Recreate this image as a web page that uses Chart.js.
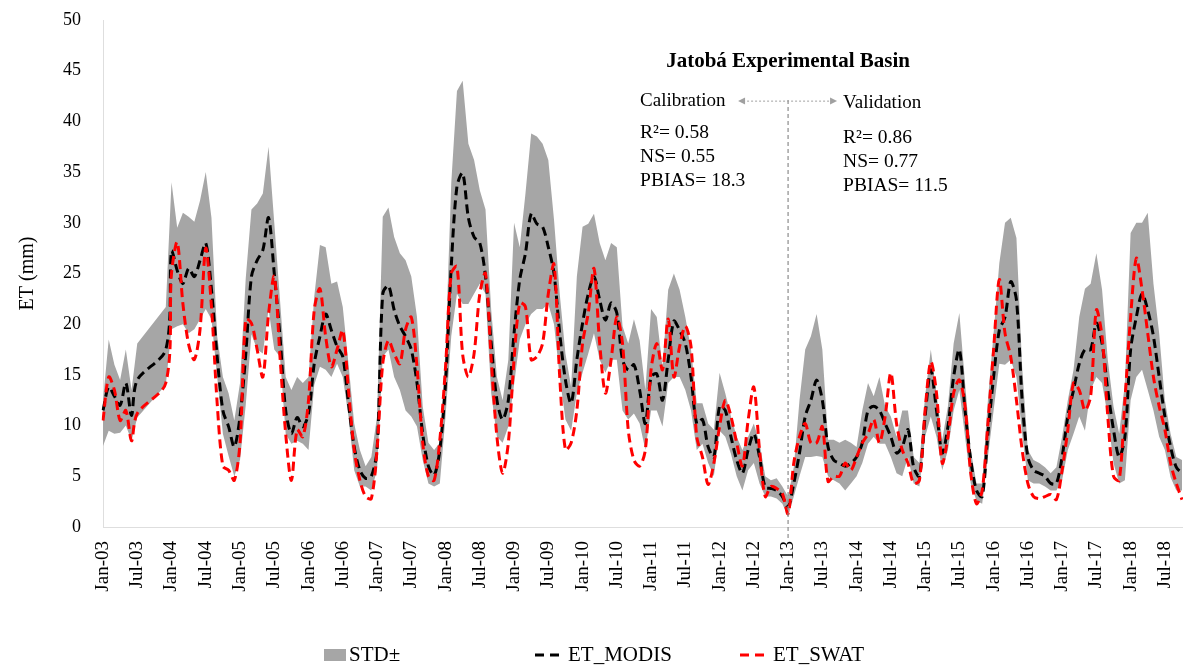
<!DOCTYPE html>
<html>
<head>
<meta charset="utf-8">
<script src="https://cdn.jsdelivr.net/npm/chart.js@4.4.1/dist/chart.umd.min.js"></script>
<style>
  html, body { margin: 0; padding: 0; background: #ffffff; }
  #wrap { width: 1183px; height: 666px; position: relative; }
</style>
</head>
<body>
<div id="wrap"><canvas id="chart"></canvas></div>
<script>
// ---------- data (monthly, Jan-03 .. Oct-18) ----------
const monthNames = ['Jan','Feb','Mar','Apr','May','Jun','Jul','Aug','Sep','Oct','Nov','Dec'];
const yearSuffixes = ['03','04','05','06','07','08','09','10','11','12','13','14','15','16','17','18'];

const tickLabels = ['Jan-03','Jul-03','Jan-04','Jul-04','Jan-05','Jul-05','Jan-06','Jul-06',
  'Jan-07','Jul-07','Jan-08','Jul-08','Jan-09','Jul-09','Jan-10','Jul-10','Jan-11','Jul-11',
  'Jan-12','Jul-12','Jan-13','Jul-13','Jan-14','Jul-14','Jan-15','Jul-15','Jan-16','Jul-16',
  'Jan-17','Jul-17','Jan-18','Jul-18'];

const etModis = [
  11.5, 13.8, 12.9, 12.0, 14.2, 11.0, 14.5, null, null, null, null, 17.5,
  27.2, 25.3, 24.0, 25.5, 24.7, 26.3, 28.0, 23.4, 16.8, 11.5, 9.9, 7.9,
  10.9, 17.0, 24.7, 26.3, 27.3, 30.5, 25.0, 18.8, 11.5, 9.2, 10.8, 9.9,
  11.2, 16.1, 18.8, 21.0, 19.4, 17.8, 16.8, 12.2, 7.9, 5.6, 4.8, 5.0,
  7.6, 23.0, 23.8, 21.4, 19.8, 18.8, 17.5, 14.2, 9.2, 6.0, 5.1, 7.6,
  14.2, 25.7, 33.6, 34.9, 30.5, 28.6, 28.0, 24.7, 18.1, 12.5, 10.6, 12.5,
  19.1, 24.4, 27.0, 30.9, 29.9, 29.6, 27.6, 25.0, 19.1, 14.5, 12.2, 16.5,
  20.1, 23.0, 24.7, 22.4, 20.4, 22.1, 21.1, 16.5, 15.5, 16.0, 13.5, 10.2,
  14.8, 15.1, 12.5, 16.5, 20.3, 19.4, 18.1, 14.8, 10.2, 10.6, 7.9, 6.9,
  11.9, 11.5, 8.9, 6.6, 5.3, 7.6, 9.2, 6.9, 3.9, 3.8, 3.6, 3.0,
  2.0, 4.3, 7.3, 10.9, 12.5, 14.5, 12.5, 7.9, 6.6, 6.3, 6.0, 6.3,
  6.9, 8.3, 11.5, 11.9, 11.5, 10.2, 8.9, 7.3, 7.9, 9.6, 5.9, 5.0,
  10.9, 15.5, 11.5, 7.3, 9.9, 14.8, 17.5, 11.5, 6.6, 3.6, 3.0, 9.2,
  14.8, 19.4, 20.7, 24.2, 22.4, 12.5, 6.9, 5.6, 5.3, 5.0, 4.3, 4.3,
  6.9, 10.9, 13.5, 16.1, 17.5, 17.5, 20.1, 18.1, 13.5, 9.6, 6.9, 8.9,
  17.5, 20.7, 23.0, 21.4, 18.8, 14.8, 10.9, 7.9, 5.9, 5.3
];

const etSwat = [
  10.5, 14.8, 13.5, 10.5, 11.5, 8.5, 11.2, null, null, null, null, 14.2,
  25.0, 28.1, 22.0, 18.0, 16.5, 19.5, 27.5, 21.7, 12.2, 6.0, 5.6, 4.6,
  8.3, 20.5, 20.1, 17.5, 14.8, 21.0, 24.7, 16.8, 9.2, 4.6, 9.6, 8.9,
  12.5, 21.4, 23.5, 18.8, 15.8, 17.5, 19.4, 13.5, 7.6, 4.6, 3.0, 2.8,
  7.6, 16.1, 18.4, 17.1, 16.1, 19.5, 20.7, 15.8, 8.3, 5.0, 4.6, 8.6,
  15.8, 25.0, 25.7, 17.0, 14.8, 17.1, 23.0, 25.0, 16.5, 8.9, 5.3, 8.3,
  16.5, 22.1, 21.7, 16.5, 16.8, 18.1, 23.0, 25.9, 14.8, 7.6, 8.3, 11.5,
  18.1, 21.1, 25.5, 18.1, 13.2, 16.5, 20.7, 18.1, 9.6, 6.6, 6.0, 7.6,
  15.5, 18.1, 15.5, 20.5, 14.8, 17.8, 19.8, 17.8, 8.9, 6.9, 4.2, 6.3,
  9.9, 12.5, 10.9, 8.3, 6.0, 10.5, 13.8, 7.6, 3.0, 4.0, 3.8, 3.3,
  1.3, 6.3, 8.9, 10.2, 8.3, 8.3, 9.9, 4.5, 5.0, 5.0, 6.3, 5.6,
  6.9, 8.3, 9.2, 10.6, 8.3, 10.9, 15.2, 10.2, 7.6, 6.3, 4.3, 4.6,
  11.5, 16.3, 13.2, 6.3, 8.9, 13.2, 14.5, 11.9, 5.3, 2.3, 3.6, 10.2,
  17.5, 24.4, 19.1, 16.8, 12.5, 7.6, 4.3, 3.0, 2.8, 3.0, 3.2, 2.7,
  5.6, 9.6, 14.2, 13.5, 11.5, 12.9, 21.4, 18.8, 10.9, 5.0, 4.6, 12.5,
  20.7, 26.5, 23.4, 19.1, 14.8, 11.9, 9.6, 6.3, 4.3, 2.7
];

const stdUpper = [
  12.5, 18.5, 16.0, 14.5, 17.5, 13.5, 18.1, null, null, null, null, 21.7,
  34.0, 29.5, 31.0, 30.6, 30.1, 32.2, 35.0, 30.5, 18.8, 14.8, 13.2, 10.5,
  14.2, 24.5, 31.3, 31.9, 32.9, 37.5, 30.0, 22.4, 14.8, 13.5, 14.8, 14.2,
  14.8, 22.7, 27.8, 27.6, 24.0, 24.2, 21.7, 16.1, 10.2, 7.6, 6.0, 6.9,
  10.9, 30.6, 31.5, 28.6, 27.0, 26.3, 24.7, 20.7, 11.9, 8.3, 7.6, 8.3,
  17.5, 33.9, 43.0, 44.0, 37.8, 36.2, 33.2, 31.3, 21.4, 14.8, 12.5, 16.5,
  30.0, 27.6, 32.9, 38.8, 38.5, 37.8, 36.2, 30.3, 23.0, 17.1, 13.8, 24.7,
  29.6, 29.9, 30.9, 28.0, 26.3, 28.0, 27.6, 19.8, 18.1, 20.5, 18.4, 13.5,
  21.5, 20.7, 15.8, 23.4, 25.0, 23.4, 20.7, 17.5, 12.2, 12.2, 10.2, 9.6,
  15.2, 13.2, 10.9, 8.9, 7.6, 8.9, 10.2, 8.3, 5.0, 4.6, 4.8, 4.0,
  3.0, 5.9, 12.5, 17.5, 18.8, 21.0, 17.5, 8.6, 8.6, 8.3, 8.6, 8.3,
  7.9, 11.5, 14.2, 12.9, 14.8, 11.9, 10.9, 8.9, 11.5, 11.5, 6.9, 6.3,
  12.9, 17.5, 13.2, 8.6, 11.9, 18.1, 21.1, 14.2, 7.6, 4.3, 4.3, 12.5,
  19.1, 26.0, 30.0, 30.5, 28.5, 15.8, 7.6, 6.6, 6.3, 5.9, 5.3, 5.9,
  8.9, 12.5, 15.5, 20.7, 23.5, 24.0, 27.0, 23.4, 16.5, 11.9, 9.2, 14.2,
  29.0, 30.0, 30.0, 31.0, 24.0, 19.1, 12.5, 9.2, 6.9, 6.6
];

const stdLower = [
  8.0, 9.5, 9.2, 9.3, 10.0, 8.5, 10.8, null, null, null, null, 14.0,
  19.5, 19.8, 20.0, 19.1, 19.5, 20.5, 21.5, 20.5, 14.8, 9.2, 7.0, 5.0,
  6.6, 12.0, 19.0, 17.5, 17.1, 21.5, 17.5, 16.8, 9.2, 8.2, 8.5, 8.2,
  7.6, 14.0, 15.8, 15.5, 14.8, 16.1, 14.8, 10.9, 5.6, 4.0, 4.0, 3.6,
  5.6, 16.8, 17.5, 14.8, 13.5, 11.5, 10.9, 9.9, 6.6, 4.3, 4.0, 4.3,
  10.9, 18.8, 23.0, 22.0, 22.0, 23.0, 24.0, 23.0, 13.2, 8.9, 8.3, 9.9,
  14.0, 18.5, 20.0, 21.0, 21.5, 21.5, 22.0, 20.0, 14.8, 10.6, 9.5, 13.2,
  15.2, 17.1, 19.1, 16.5, 15.2, 16.5, 16.5, 11.5, 10.6, 11.2, 10.2, 7.6,
  11.5, 11.5, 9.9, 14.2, 14.8, 14.8, 13.5, 11.5, 7.6, 8.2, 6.3, 5.0,
  9.5, 8.9, 7.2, 5.0, 3.6, 5.6, 6.3, 4.3, 3.0, 3.0, 2.8, 2.3,
  1.0, 3.0, 5.0, 6.9, 6.9, 7.0, 6.9, 5.0, 4.6, 4.3, 3.6, 4.3,
  5.0, 6.3, 8.2, 8.9, 8.2, 8.2, 6.9, 5.3, 5.0, 6.9, 4.3, 4.0,
  8.9, 10.9, 8.9, 5.6, 7.6, 11.5, 13.5, 8.9, 4.3, 2.6, 2.3, 6.9,
  11.5, 16.1, 16.0, 16.5, 14.8, 9.2, 4.6, 4.3, 4.3, 4.0, 3.6, 3.6,
  4.6, 7.6, 9.2, 10.9, 9.5, 13.5, 14.8, 14.2, 10.9, 6.3, 4.3, 4.6,
  12.5, 14.8, 15.5, 13.5, 11.5, 8.9, 7.6, 4.9, 3.6, 3.6
];

const legendLabels = ['STD\u00b1', 'ET_MODIS', 'ET_SWAT'];
const chartTitle = 'Jatob\u00e1 Experimental Basin';
const periodLabels = ['Calibration', 'Validation'];
const calibrationStats = ['R\u00b2= 0.58', 'NS= 0.55', 'PBIAS= 18.3'];
const validationStats = ['R\u00b2= 0.86', 'NS= 0.77', 'PBIAS= 11.5'];
const splitLabel = 'Jan-13';

// ---------- categories ----------
const months = [];
yearSuffixes.forEach(y => monthNames.forEach(m => months.push(m + '-' + y)));
const categories = months.slice(0, etModis.length);
const splitIndex = categories.indexOf(splitLabel);

const SERIF = '"Liberation Serif", "Times New Roman", serif';
const bandColor = '#a6a6a6';
const modisColor = '#000000';
const swatColor = '#ff0000';
const lineDash = [9, 5];

// ---------- custom drawing (annotations + legend) ----------
const annotationPlugin = {
  id: 'periodAnnotations',
  afterDatasetsDraw(chart) {
    const { ctx, chartArea, scales: { x, y } } = chart;
    const sx = x.getPixelForValue(splitIndex);
    ctx.save();
    // split line
    ctx.strokeStyle = '#8c8c8c';
    ctx.lineWidth = 1.2;
    ctx.setLineDash([4, 3]);
    ctx.beginPath();
    ctx.moveTo(sx, y.getPixelForValue(42.1));
    ctx.lineTo(sx, chartArea.bottom + 14);
    ctx.stroke();

    // title
    ctx.setLineDash([]);
    ctx.fillStyle = '#000';
    ctx.textBaseline = 'middle';
    ctx.textAlign = 'center';
    ctx.font = 'bold 21px ' + SERIF;
    ctx.fillText(chartTitle, sx, y.getPixelForValue(45.9));

    // period labels
    ctx.font = '19px ' + SERIF;
    ctx.textAlign = 'left';
    const arrowY = y.getPixelForValue(42.0);
    ctx.fillText(periodLabels[0], sx - 148, arrowY);
    ctx.fillText(periodLabels[1], sx + 55, y.getPixelForValue(41.8));

    // double arrow
    ctx.strokeStyle = '#a0a0a0';
    ctx.fillStyle = '#a0a0a0';
    ctx.lineWidth = 1;
    ctx.setLineDash([2, 2]);
    const ax0 = sx - 50, ax1 = sx + 49;
    ctx.beginPath();
    ctx.moveTo(ax0 + 5, arrowY);
    ctx.lineTo(ax1 - 5, arrowY);
    ctx.stroke();
    ctx.setLineDash([]);
    ctx.beginPath();
    ctx.moveTo(ax0, arrowY); ctx.lineTo(ax0 + 7, arrowY - 3.5); ctx.lineTo(ax0 + 7, arrowY + 3.5); ctx.closePath();
    ctx.fill();
    ctx.beginPath();
    ctx.moveTo(ax1, arrowY); ctx.lineTo(ax1 - 7, arrowY - 3.5); ctx.lineTo(ax1 - 7, arrowY + 3.5); ctx.closePath();
    ctx.fill();

    // stats
    ctx.fillStyle = '#000';
    ctx.font = '19.5px ' + SERIF;
    const leftVals = [38.86, 36.49, 34.12];
    const rightVals = [38.36, 36.0, 33.63];
    calibrationStats.forEach((t, i) => ctx.fillText(t, sx - 148, y.getPixelForValue(leftVals[i])));
    validationStats.forEach((t, i) => ctx.fillText(t, sx + 55, y.getPixelForValue(rightVals[i])));
    ctx.restore();
  },
  afterDraw(chart) {
    const { ctx } = chart;
    const ly = 655;
    ctx.save();
    ctx.textBaseline = 'middle';
    ctx.textAlign = 'left';
    ctx.font = '21px ' + SERIF;
    // STD
    ctx.fillStyle = bandColor;
    ctx.fillRect(324, ly - 6, 22, 12);
    ctx.fillStyle = '#000';
    ctx.fillText(legendLabels[0], 349, ly);
    // MODIS
    ctx.lineWidth = 3;
    ctx.setLineDash([9, 6]);
    ctx.strokeStyle = modisColor;
    ctx.beginPath(); ctx.moveTo(535, ly); ctx.lineTo(559, ly); ctx.stroke();
    ctx.fillText(legendLabels[1], 568, ly);
    // SWAT
    ctx.strokeStyle = swatColor;
    ctx.beginPath(); ctx.moveTo(740, ly); ctx.lineTo(764, ly); ctx.stroke();
    ctx.fillStyle = '#000';
    ctx.fillText(legendLabels[2], 773, ly);
    ctx.restore();
  }
};

new Chart(document.getElementById('chart'), {
  type: 'line',
  data: {
    labels: categories,
    datasets: [
      {
        label: 'STD-',
        data: stdLower,
        borderWidth: 0,
        borderColor: 'rgba(0,0,0,0)',
        pointRadius: 0,
        fill: false,
        spanGaps: true,
        tension: 0,
        order: 3
      },
      {
        label: legendLabels[0],
        data: stdUpper,
        borderWidth: 0,
        borderColor: 'rgba(0,0,0,0)',
        backgroundColor: bandColor,
        pointRadius: 0,
        fill: '-1',
        spanGaps: true,
        tension: 0,
        order: 2
      },
      {
        label: legendLabels[1],
        data: etModis,
        borderColor: modisColor,
        borderWidth: 3,
        borderDash: lineDash,
        pointRadius: 0,
        fill: false,
        spanGaps: true,
        tension: 0.3,
        order: 1
      },
      {
        label: legendLabels[2],
        data: etSwat,
        borderColor: swatColor,
        borderWidth: 3,
        borderDash: lineDash,
        pointRadius: 0,
        fill: false,
        spanGaps: true,
        tension: 0.3,
        order: 0
      }
    ]
  },
  options: {
    responsive: true,
    maintainAspectRatio: false,
    animation: false,
    events: [],
    layout: { padding: { top: 20, right: 1, bottom: 0, left: 0 } },
    plugins: {
      legend: { display: false },
      tooltip: { enabled: false },
      filler: { propagate: false }
    },
    scales: {
      x: {
        type: 'category',
        offset: false,
        grid: { display: false, drawTicks: false },
        border: { display: true, color: '#dedede', width: 1 },
        ticks: {
          autoSkip: false,
          maxRotation: 90,
          minRotation: 90,
          padding: 14,
          color: '#000',
          font: { family: SERIF, size: 19 },
          callback: (v, i) => (i % 6 === 0 ? tickLabels[i / 6] : null)
        },
        afterFit: (s) => { s.height = 139; s.paddingLeft = 0; s.paddingRight = 0; }
      },
      y: {
        min: 0,
        max: 50,
        grid: { display: false, drawTicks: false },
        border: { display: true, color: '#dedede', width: 1 },
        ticks: {
          stepSize: 5,
          padding: 22,
          color: '#000',
          font: { family: SERIF, size: 18 }
        },
        title: {
          display: true,
          text: 'ET (mm)',
          color: '#000',
          font: { family: SERIF, size: 20 },
          padding: { top: 16, bottom: 0 }
        },
        afterFit: (s) => { s.width = 103; s.paddingTop = 0; s.paddingBottom = 0; }
      }
    }
  },
  plugins: [annotationPlugin]
});
</script>
</body>
</html>
